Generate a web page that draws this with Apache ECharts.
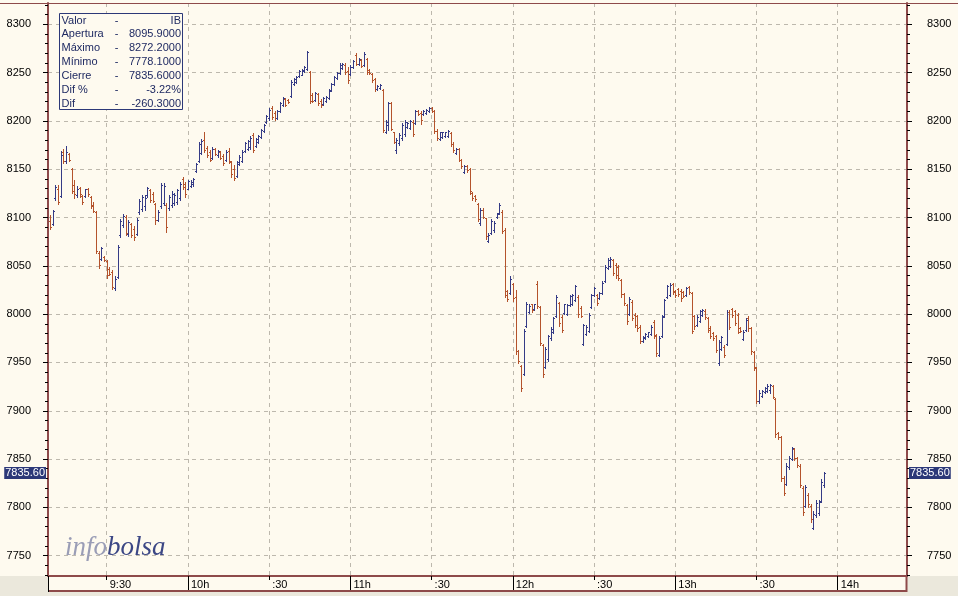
<!DOCTYPE html>
<html>
<head>
<meta charset="utf-8">
<script src="https://cdn.jsdelivr.net/npm/echarts@6/dist/echarts.min.js"></script>
<style>
html,body{margin:0;padding:0;background:#fefaef;}
#chart{width:958px;height:596px;}
</style>
</head>
<body>
<div id="chart"></div>
<script>
// ---- DATA (1-minute OHLC bars, IBEX 35, first bar at 09:09) ----
const firstBarTime = '09:09';
const opens = [
8096,8093,8120,8130,8122,8168,8158,8166,8150,8134,
8123,8131,8122,8122,8130,8121,8113,8106,8063,8057,
8059,8055,8047,8044,8027,8038,8082,8092,8101,8083,
8093,8088,8083,8106,8109,8112,8123,8128,8124,8114,
8097,8112,8115,8113,8110,8113,8115,8116,8120,8140,
8135,8130,8133,8135,8148,8158,8167,8180,8172,8168,
8162,8171,8165,8168,8164,8160,8169,8157,8150,8143,
8155,8158,8169,8171,8173,8185,8174,8178,8183,8190,
8199,8203,8213,8208,8203,8210,8216,8223,8222,8226,
8238,8240,8246,8248,8252,8254,8251,8227,8222,8228,
8221,8217,8221,8224,8232,8238,8244,8250,8255,8258,
8252,8249,8256,8268,8259,8263,8258,8264,8253,8249,
8243,8233,8234,8232,8189,8196,8218,8188,8170,8177,
8182,8186,8194,8193,8199,8198,8210,8208,8207,8208,
8210,8213,8210,8190,8181,8183,8184,8184,8187,8176,
8167,8171,8160,8147,8153,8150,8125,8122,8114,8094,
8108,8099,8076,8084,8087,8101,8105,8106,8087,8024,
8022,8031,8018,7962,7946,7938,7988,8002,8010,8005,
8031,8007,7968,7945,7954,7975,7981,7998,8012,7997,
8001,8000,8009,8010,8015,8018,8006,7969,7979,7983,
8007,8020,8020,8017,8022,8034,8048,8050,8056,8051,
8049,8035,8021,8009,8000,8013,7999,7998,7987,7972,
7975,7977,7979,7992,7977,7958,7977,7998,8018,8020,
8031,8024,8026,8024,8023,8020,8028,8022,7998,7989,
7993,7999,8003,7996,7986,7980,7977,7949,7964,7966,
7969,8002,8005,8003,7999,7986,7974,7984,7996,7986,
7961,7944,7910,7915,7919,7920,7922,7926,7912,7877,
7873,7830,7824,7842,7850,7860,7851,7843,7820,7801,
7813,7801,7779,7792,7794,7807,7823
];
const highs = [
8103,8108,8134,8134,8169,8171,8174,8167,8151,8139,
8133,8132,8123,8130,8131,8122,8116,8107,8065,8070,
8060,8056,8049,8046,8039,8072,8098,8104,8103,8097,
8094,8091,8099,8119,8123,8123,8132,8129,8126,8115,
8108,8136,8136,8115,8123,8127,8125,8130,8137,8142,
8137,8139,8139,8141,8156,8178,8181,8189,8174,8170,
8173,8172,8170,8169,8166,8170,8172,8158,8154,8159,
8165,8170,8178,8180,8184,8187,8182,8185,8192,8197,
8206,8213,8215,8210,8211,8220,8225,8224,8223,8242,
8244,8246,8253,8254,8257,8272.2,8252,8229,8230,8229,
8223,8225,8226,8233,8239,8246,8251,8260,8260,8260,
8256,8258,8263,8270,8265,8264,8271,8265,8254,8250,
8244,8237,8238,8233,8201,8220,8220,8189,8182,8187,
8198,8201,8199,8201,8201,8211,8211,8210,8211,8212,
8214,8214,8211,8192,8189,8189,8189,8191,8188,8178,
8172,8172,8161,8154,8154,8151,8126,8123,8115,8110,
8110,8100,8084,8098,8096,8105,8115,8108,8089,8025,
8039,8032,8025,7963,7947,7985,8013,8010,8011,8011,
8034,8008,7969,7966,7978,7987,7997,8020,8013,7999,
8011,8011,8020,8021,8030,8020,8008,7990,7989,8001,
8021,8028,8021,8023,8034,8051,8058,8059,8057,8053,
8051,8036,8022,8010,8018,8015,8001,7999,7989,7977,
7980,7982,7989,7994,7979,7977,7999,8016,8030,8032,
8032,8025,8027,8026,8024,8028,8029,8023,7999,7999,
8004,8005,8005,7997,7988,7982,7978,7973,7977,7968,
8004,8004,8006,8004,8001,7987,7984,7996,7998,7987,
7962,7945,7921,7922,7925,7928,7928,7927,7913,7878,
7874,7832,7846,7853,7863,7861,7852,7845,7822,7823,
7815,7803,7796,7808,7808,7829,7837
];
const lows = [
8088,8092,8118,8114,8121,8156,8156,8158,8125,8120,
8121,8121,8114,8121,8122,8110,8106,8063,8048,8056,
8055,8037,8040,8026,8025,8037,8080,8090,8082,8081,
8080,8077,8082,8104,8107,8108,8121,8116,8116,8093,
8096,8110,8113,8085,8108,8111,8113,8114,8118,8130,
8121,8129,8132,8133,8147,8157,8166,8168,8163,8159,
8161,8165,8163,8161,8154,8159,8156,8142,8139,8142,
8154,8157,8168,8170,8171,8168,8173,8177,8182,8189,
8198,8201,8202,8201,8202,8209,8215,8215,8219,8225,
8237,8239,8245,8247,8251,8253,8218,8220,8221,8216,
8214,8216,8220,8223,8231,8237,8243,8249,8254,8249,
8239,8248,8255,8258,8258,8256,8257,8249,8249,8240,
8231,8232,8233,8189,8187,8191,8191,8177,8167,8175,
8180,8184,8193,8192,8184,8197,8206,8197,8206,8207,
8209,8209,8187,8180,8180,8182,8183,8183,8174,8168,
8166,8158,8151,8146,8147,8124,8118,8117,8096,8092,
8099,8078,8075,8083,8085,8100,8104,8084,8018,8014,
8021,8014,7959,7949,7920,7937,7987,8001,8002,8004,
8006,7968,7935,7944,7952,7973,7980,7997,7988,7982,
8000,7999,8008,8009,8014,7997,7997,7968,7978,7982,
8006,8019,8009,8016,8021,8033,8047,8049,8040,8037,
8035,8018,8009,7990,7999,7994,7987,7983,7970,7971,
7974,7976,7978,7975,7957,7957,7976,7997,8017,8019,
8021,8018,8019,8014,8018,8019,8021,7980,7985,7988,
7992,7998,7995,7982,7975,7973,7961,7947,7963,7956,
7968,7985,7997,7989,7980,7982,7973,7983,7983,7959,
7942,7908,7908,7914,7918,7919,7918,7913,7873,7871,
7827,7813,7823,7840,7849,7849,7842,7821,7792,7800,
7800,7785,7778.1,7790,7792,7806,7821
];
const closes = [
8090,8107,8132,8116,8165,8158,8168,8160,8127,8124,
8130,8124,8116,8129,8124,8112,8107,8065,8051,8068,
8056,8040,8042,8028,8036,8070,8096,8102,8084,8095,
8082,8080,8097,8117,8121,8120,8131,8118,8117,8097,
8106,8134,8133,8090,8121,8124,8123,8128,8135,8132,
8124,8138,8137,8140,8155,8176,8179,8170,8165,8160,
8171,8166,8169,8162,8156,8168,8158,8145,8141,8157,
8163,8168,8177,8179,8182,8170,8181,8184,8191,8196,
8205,8211,8204,8203,8210,8219,8224,8216,8220,8240,
8243,8245,8252,8253,8256,8271,8221,8221,8229,8218,
8216,8224,8225,8231,8238,8245,8250,8258,8259,8251,
8242,8256,8262,8259,8264,8257,8269,8251,8250,8242,
8233,8236,8237,8191,8199,8218,8192,8178,8180,8185,
8196,8199,8198,8200,8186,8210,8207,8201,8210,8211,
8213,8210,8190,8182,8188,8188,8188,8190,8176,8170,
8171,8160,8153,8153,8149,8127,8120,8119,8098,8108,
8101,8081,8082,8096,8094,8104,8113,8086,8020,8016,
8036,8017,7962,7951,7924,7983,8010,8008,8004,8010,
8008,7970,7938,7964,7977,7985,7996,8018,7991,7984,
8010,8009,8019,8020,8029,8000,7998,7989,7987,7999,
8020,8027,8012,8022,8032,8049,8056,8057,8043,8040,
8037,8021,8012,7993,8016,7996,7989,7986,7972,7976,
7979,7981,7987,7978,7960,7975,7997,8015,8029,8030,
8023,8020,8021,8017,8019,8027,8023,7983,7988,7997,
8003,8004,7997,7984,7977,7975,7963,7971,7976,7958,
8002,7987,7999,7991,7982,7983,7982,7994,7986,7962,
7945,7910,7918,7920,7924,7926,7927,7914,7876,7873,
7830,7815,7843,7851,7861,7851,7844,7823,7795,7821,
7803,7788,7793,7805,7806,7826,7835.6
];
const yTickValues = [7750, 7800, 7850, 7900, 7950, 8000, 8050, 8100, 8150, 8200, 8250, 8300];
const xTickTimes = ['09:30','10:00','10:30','11:00','11:30','12:00','12:30','13:00','13:30','14:00'];
const xTickLabels = ['9:30','10h',':30','11h',':30','12h',':30','13h',':30','14h'];
const lastClose = 7835.6;
const infoRows = [
  ['Valor', 'IB'],
  ['Apertura', '8095.9000'],
  ['M\u00e1ximo', '8272.2000'],
  ['M\u00ednimo', '7778.1000'],
  ['Cierre', '7835.6000'],
  ['Dif %', '-3.22%'],
  ['Dif', '-260.3000']
];

// ---- helpers ----
function toMinutes(t) { const p = t.split(':'); return (+p[0]) * 60 + (+p[1]); }
const firstMinute = toMinutes(firstBarTime);
const barData = opens.map((o, i) => [firstMinute + i, o, highs[i], lows[i], closes[i]]);
const lastMinute = firstMinute + opens.length - 1;
const xTickMinutes = xTickTimes.map(toMinutes);
const xHourMinutes = xTickMinutes.filter(m => m % 60 === 0);
const yMinorTicks = [];
for (let v = 7730; v <= 8320; v += 10) yMinorTicks.push(v);

const X_MIN = 548.3, X_MAX = 865.6;
const Y_MIN = 7729, Y_MAX = 8322;
const BG = '#fefaef';
const MAROON = '#8e4a4a';
const GRID = '#bdb8ad';
const UP = '#353b86';
const DOWN = '#b4532c';
const NAVY = '#2c3878';
const FONT = '"Liberation Sans", Arial, sans-serif';

const chart = echarts.init(document.getElementById('chart'), null, {renderer: 'canvas'});

function renderBar(params, api) {
  const m = api.value(0), o = api.value(1), h = api.value(2), l = api.value(3), c = api.value(4);
  const pH = api.coord([m, h]);
  const pL = api.coord([m, l]);
  const pO = api.coord([m, o]);
  const pC = api.coord([m, c]);
  const col = Math.round(pH[0]);
  const cx = col + 0.5;
  const color = c >= o ? UP : DOWN;
  const yTop = Math.round(pH[1]);
  const yBot = Math.max(Math.round(pL[1]) + 1, yTop + 1);
  const yo = Math.round(pO[1]) + 0.5;
  const yc = Math.round(pC[1]) + 0.5;
  return {
    type: 'group',
    children: [
      {type: 'line', shape: {x1: cx, y1: yTop, x2: cx, y2: yBot}, style: {stroke: color, lineWidth: 1}},
      {type: 'line', shape: {x1: col - 1, y1: yo, x2: col + 0.5, y2: yo}, style: {stroke: color, lineWidth: 1}},
      {type: 'line', shape: {x1: col + 0.5, y1: yc, x2: col + 2, y2: yc}, style: {stroke: color, lineWidth: 1}}
    ]
  };
}

const labelStyle = {color: '#000', fontSize: 11, fontFamily: FONT};

const graphics = [
  // grey strip under the time axis
  {type: 'rect', z: -10, silent: true, shape: {x: 0, y: 576, width: 958, height: 20}, style: {fill: '#ebe8dc'}},
  {type: 'rect', z: -9, silent: true, shape: {x: 48, y: 576, width: 859, height: 15}, style: {fill: BG}},
  // top border
  {type: 'line', z: 50, silent: true, shape: {x1: 0, y1: 3.5, x2: 958, y2: 3.5}, style: {stroke: MAROON, lineWidth: 1}},
  // bottom of time box
  {type: 'line', z: 50, silent: true, shape: {x1: 48, y1: 591, x2: 907, y2: 591}, style: {stroke: MAROON, lineWidth: 2}},
  {type: 'line', z: 50, silent: true, shape: {x1: 48.5, y1: 576, x2: 48.5, y2: 592}, style: {stroke: '#000', lineWidth: 1}},
  {type: 'line', z: 50, silent: true, shape: {x1: 906.5, y1: 576, x2: 906.5, y2: 592}, style: {stroke: MAROON, lineWidth: 2}},
  // info box
  {type: 'rect', z: 60, silent: true, shape: {x: 59.5, y: 13.5, width: 123, height: 96}, style: {fill: BG, stroke: NAVY, lineWidth: 1}},
  // logo
  {type: 'text', z: 60, silent: true, left: 65, top: 534,
   style: {text: '{a|info}{b|bolsa}', rich: {
     a: {fontFamily: '"Liberation Serif", "DejaVu Serif", serif', fontStyle: 'italic', fontSize: 27, fill: '#9a9db6'},
     b: {fontFamily: '"Liberation Serif", "DejaVu Serif", serif', fontStyle: 'italic', fontSize: 27, fill: '#3c4785'}
   }}}
];
infoRows.forEach((r, i) => {
  const y = 20.5 + i * 13.85;
  graphics.push({type: 'text', z: 61, silent: true, x: 61.5, y: y,
    style: {text: r[0], fill: '#1f2a62', font: '11px ' + FONT, textVerticalAlign: 'middle', textAlign: 'left'}});
  graphics.push({type: 'text', z: 61, silent: true, x: 116.5, y: y,
    style: {text: '-', fill: '#1f2a62', font: '11px ' + FONT, textVerticalAlign: 'middle', textAlign: 'center'}});
  graphics.push({type: 'text', z: 61, silent: true, x: 181, y: y,
    style: {text: r[1], fill: '#1f2a62', font: '11px ' + FONT, textVerticalAlign: 'middle', textAlign: 'right'}});
});

function yAxisPair(pos) {
  return [
    {type: 'value', position: pos, offset: 0, min: Y_MIN, max: Y_MAX, scale: true,
     axisLine: {show: true, lineStyle: {color: MAROON, width: 2}},
     axisTick: {show: true, customValues: yTickValues, length: 5, lineStyle: {color: '#000', width: 1}},
     axisLabel: Object.assign({show: true, customValues: yTickValues, margin: pos === 'left' ? 17 : 20,
       formatter: v => String(Math.round(v))}, labelStyle),
     splitLine: {show: pos === 'left', lineStyle: {color: GRID, type: [4, 4], width: 1}},
     minorTick: {show: false}, minorSplitLine: {show: false}},
    {type: 'value', position: pos, offset: 0, min: Y_MIN, max: Y_MAX, scale: true,
     axisLine: {show: false},
     axisTick: {show: true, customValues: yMinorTicks, length: 3, lineStyle: {color: '#000', width: 1}},
     axisLabel: {show: false},
     splitLine: {show: false}}
  ];
}

const option = {
  backgroundColor: BG,
  animation: false,
  grid: {left: 48, right: 51, top: 3, bottom: 20, containLabel: false, outerBoundsMode: 'none'},
  xAxis: [
    {type: 'value', position: 'bottom', offset: 0, min: X_MIN, max: X_MAX,
     axisLine: {show: true, onZero: false, lineStyle: {color: MAROON, width: 2}},
     axisTick: {show: true, customValues: xTickMinutes, length: 4, lineStyle: {color: '#000', width: 1}},
     axisLabel: Object.assign({show: true, customValues: xTickMinutes, margin: 3, align: 'left', padding: [0, 0, 0, 3],
       formatter: v => xTickLabels[xTickMinutes.indexOf(Math.round(v))]}, labelStyle),
     splitLine: {show: true, lineStyle: {color: GRID, type: [4, 4], width: 1}}},
    {type: 'value', position: 'bottom', offset: 0, min: X_MIN, max: X_MAX,
     axisLine: {show: false, onZero: false},
     axisTick: {show: true, customValues: xHourMinutes, length: 15, lineStyle: {color: '#000', width: 1}},
     axisLabel: {show: false},
     splitLine: {show: false}}
  ],
  yAxis: yAxisPair('left').concat(yAxisPair('right')),
  series: [
    {type: 'custom', name: 'IB', xAxisIndex: 0, yAxisIndex: 0, renderItem: renderBar,
     data: barData, encode: {x: 0, y: [1, 2, 3, 4]}, clip: true, silent: true, z: 3},
    {type: 'line', xAxisIndex: 0, yAxisIndex: 0, data: [[lastMinute, lastClose]], silent: true,
     symbol: 'none', showSymbol: false, lineStyle: {width: 0, color: 'rgba(0,0,0,0)'}, z: 5,
     markLine: {silent: true, symbol: ['none', 'none'], animation: false,
       lineStyle: {width: 0, color: 'rgba(0,0,0,0)', type: 'solid', opacity: 1},
       label: {show: true, formatter: () => lastClose.toFixed(2), color: '#ffffff', opacity: 1,
         backgroundColor: NAVY, padding: [1, 1, 0, 1], fontSize: 11, fontFamily: FONT, distance: 2},
       data: [
         {yAxis: lastClose, label: {position: 'start'}},
         {yAxis: lastClose, label: {position: 'end'}}
       ]}}
  ],
  graphic: graphics
};
chart.setOption(option);
</script>
</body>
</html>
